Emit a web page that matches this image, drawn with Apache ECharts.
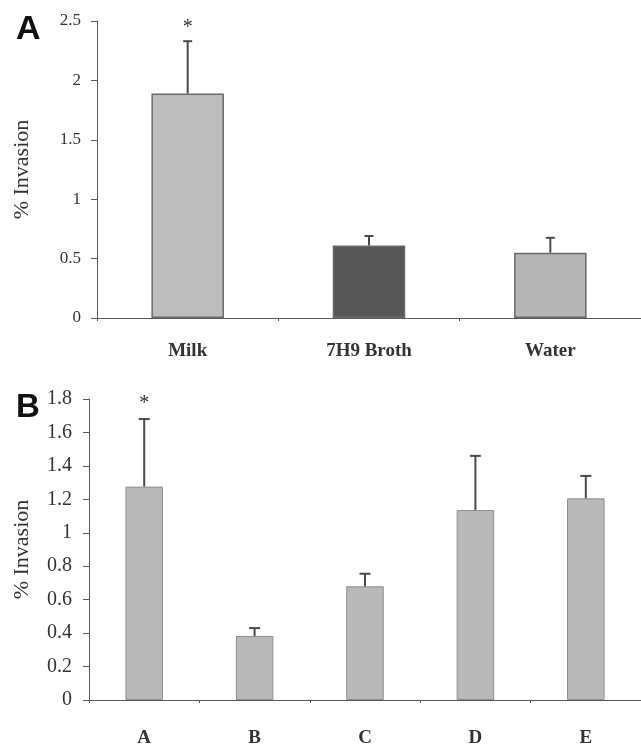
<!DOCTYPE html>
<html>
<head>
<meta charset="utf-8">
<script src="https://cdn.jsdelivr.net/npm/echarts@6/dist/echarts.min.js"></script>
<style>
  html, body { margin: 0; padding: 0; background: #fff; }
  #chart { width: 641px; height: 745px; }
</style>
</head>
<body>
<div id="chart"></div>
<script>
// panel A
const catsA = ['Milk', '7H9 Broth', 'Water'];
const meanA = [1.89, 0.61, 0.55];
const errTopA = [2.33, 0.69, 0.675];
const sigA = ['*', '', ''];
const colorsA = ['#bdbdbd', '#575757', '#b5b5b5'];
const ticksA = [0, 0.5, 1, 1.5, 2, 2.5];

// panel B
const catsB = ['A', 'B', 'C', 'D', 'E'];
const meanB = [1.276, 0.383, 0.68, 1.136, 1.206];
const errTopB = [1.68, 0.43, 0.755, 1.46, 1.34];
const sigB = ['*', '', '', '', ''];
const ticksB = [0, 0.2, 0.4, 0.6, 0.8, 1, 1.2, 1.4, 1.6, 1.8];

const serif = '"Liberation Serif", "DejaVu Serif", serif';
const sans = '"Liberation Sans", Arial, sans-serif';
const axisGray = '#5a5a5a';

function errorSeries(gridIdx, means, tops, sig, capW, starGap) {
  return {
    type: 'custom',
    xAxisIndex: gridIdx,
    yAxisIndex: gridIdx,
    z: 5,
    data: means.map((m, i) => [i, m, tops[i]]),
    renderItem: function (params, api) {
      const base = api.coord([api.value(0), api.value(1)]);
      const top = api.coord([api.value(0), api.value(2)]);
      const children = [
        { type: 'line', shape: { x1: base[0], y1: base[1], x2: top[0], y2: top[1] },
          style: { stroke: '#4a4a4a', lineWidth: 2 } },
        { type: 'line', shape: { x1: top[0] - capW / 2, y1: top[1], x2: top[0] + capW / 2, y2: top[1] },
          style: { stroke: '#4a4a4a', lineWidth: 2 } }
      ];
      const s = sig[params.dataIndex];
      if (s) {
        children.push({
          type: 'text',
          style: { text: s, x: top[0], y: top[1] - starGap, align: 'center', verticalAlign: 'middle',
            font: '20px ' + serif, fill: '#333' }
        });
      }
      return { type: 'group', children: children };
    }
  };
}

function yAxisFor(gridIdx, max, interval, fontSize, margin, nameGap) {
  return {
    type: 'value',
    gridIndex: gridIdx,
    min: 0,
    max: max,
    interval: interval,
    name: '% Invasion',
    nameLocation: 'middle',
    nameGap: nameGap,
    nameTextStyle: { fontFamily: serif, fontSize: 22, color: '#333' },
    splitLine: { show: false },
    axisLine: { show: true, lineStyle: { color: axisGray, width: 1 } },
    axisTick: { show: true, length: 6, lineStyle: { color: axisGray } },
    axisLabel: { fontFamily: serif, fontSize: fontSize, color: '#333', margin: margin }
  };
}

function xAxisFor(gridIdx, cats, fontSize, margin) {
  return {
    type: 'category',
    gridIndex: gridIdx,
    data: cats,
    axisLine: { show: true, lineStyle: { color: axisGray, width: 1 } },
    axisTick: { show: true, length: 3, lineStyle: { color: axisGray } },
    axisLabel: { fontFamily: serif, fontWeight: 'bold', fontSize: fontSize, color: '#333', margin: margin }
  };
}

const chart = echarts.init(document.getElementById('chart'));
chart.setOption({
  animation: false,
  backgroundColor: '#fff',
  title: [
    { text: 'A', left: 11, top: 8, textStyle: { fontFamily: sans, fontWeight: 'bold', fontSize: 34, color: '#111' } },
    { text: 'B', left: 11, top: 386, textStyle: { fontFamily: sans, fontWeight: 'bold', fontSize: 33, color: '#111' } }
  ],
  grid: [
    { left: 97, right: 0, top: 21, height: 297, outerBoundsMode: 'none' },
    { left: 89, right: 0, top: 399, height: 301, outerBoundsMode: 'none' }
  ],
  xAxis: [xAxisFor(0, catsA, 19, 24), xAxisFor(1, catsB, 19, 29)],
  yAxis: [yAxisFor(0, ticksA[ticksA.length - 1], ticksA[1] - ticksA[0], 17, 16, 64),
          yAxisFor(1, ticksB[ticksB.length - 1], ticksB[1] - ticksB[0], 20, 17, 56)],
  series: [
    {
      type: 'bar',
      xAxisIndex: 0,
      yAxisIndex: 0,
      barWidth: '40%',
      data: meanA.map((v, i) => ({ value: v, itemStyle: { color: colorsA[i] } })),
      itemStyle: { borderColor: '#6a6a6a', borderWidth: 1.5 }
    },
    errorSeries(0, meanA, errTopA, sigA, 9, 13),
    {
      type: 'bar',
      xAxisIndex: 1,
      yAxisIndex: 1,
      barWidth: '34%',
      data: meanB,
      itemStyle: { color: '#b9b9b9', borderColor: '#8f8f8f', borderWidth: 1 }
    },
    errorSeries(1, meanB, errTopB, sigB, 11, 15)
  ]
});
</script>
</body>
</html>
